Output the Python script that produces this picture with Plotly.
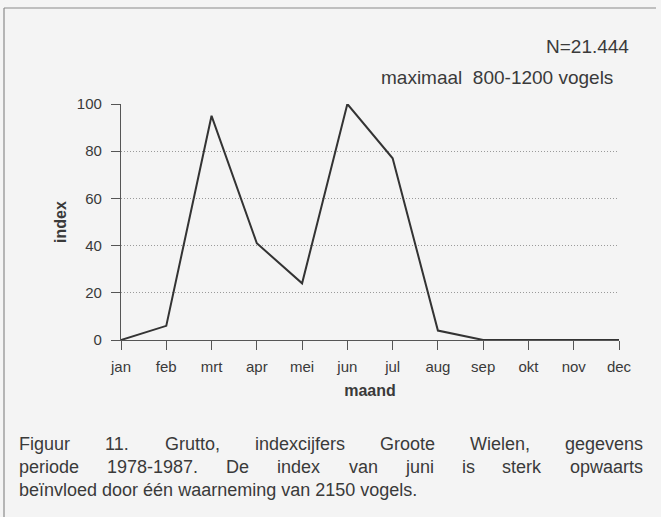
import plotly.graph_objects as go

months = ["jan", "feb", "mrt", "apr", "mei", "jun", "jul", "aug", "sep", "okt", "nov", "dec"]
index_values = [0, 6, 95, 41, 24, 100, 77, 4, 0, 0, 0, 0]
y_ticks = [0, 20, 40, 60, 80, 100]
n_label = "N=21.444"
max_label = "maximaal  800-1200 vogels"
caption_lines = [
    "Figuur 11. Grutto, indexcijfers Groote Wielen, gegevens",
    "periode 1978-1987. De index van juni is sterk opwaarts",
    "beïnvloed door één waarneming van 2150 vogels.",
]

FONT = "Arial, Liberation Sans, sans-serif"
TXT = "#3a3a3a"
BG = "#f4f4f4"

# plot area in pixels (661 x 517 page)
L, R, T, B = 121, 42, 104, 177
PW = 661 - L - R
PH = 517 - T - B

# rough Arial advance widths (per 1000 em) used for justifying the caption
AW = {" ": 278, ".": 278, ",": 278, "-": 333, "F": 611, "G": 778, "W": 944, "D": 722,
      "i": 222, "j": 222, "l": 222, "f": 278, "t": 278, "r": 333, "m": 833, "w": 722,
      "c": 500, "k": 500, "s": 500, "v": 500, "x": 500, "y": 500, "z": 500, "ï": 278}


def text_w(s, size):
    return sum(AW.get(ch, 556) for ch in s) * size / 1000


def px_x(px):
    return (px - L) / PW


def px_y(py):
    return (517 - B - py) / PH


fig = go.Figure()
fig.add_trace(go.Scatter(
    x=months, y=index_values, mode="lines",
    line=dict(color="#333333", width=2),
    showlegend=False, hoverinfo="skip",
))

annotations = [
    dict(text=n_label, x=px_x(631), y=px_y(46), xanchor="right", yanchor="middle",
         font=dict(size=19, color=TXT, family=FONT)),
    dict(text=max_label, x=px_x(615), y=px_y(77), xanchor="right", yanchor="middle",
         font=dict(size=19, color=TXT, family=FONT)),
]

cap_size = 18
left_px, right_px = 19, 643
for i, line in enumerate(caption_lines):
    y = px_y(444 + i * 23)
    if i == len(caption_lines) - 1:
        annotations.append(dict(text=line, x=px_x(left_px - 2), y=y, xanchor="left",
                                yanchor="middle", font=dict(size=cap_size, color=TXT, family=FONT)))
        continue
    # justified line: spread the words between the left and right edge
    words = line.split(" ")
    widths = [text_w(w, cap_size) for w in words]
    gap = (right_px - left_px - sum(widths)) / (len(words) - 1)
    pos = left_px
    for k, (w, wd) in enumerate(zip(words, widths)):
        if k == 0:
            x, anchor = pos - 2, "left"
        elif k == len(words) - 1:
            x, anchor = right_px + 2, "right"
        else:
            x, anchor = pos + wd / 2, "center"
        annotations.append(dict(text=w, x=px_x(x), y=y, xanchor=anchor, yanchor="middle",
                                font=dict(size=cap_size, color=TXT, family=FONT)))
        pos += wd + gap

for a in annotations:
    a.update(xref="paper", yref="paper", showarrow=False)

# frame lines round the figure (top and left edges)
shapes = [
    dict(type="line", xref="paper", yref="paper", x0=px_x(4), x1=px_x(656), y0=px_y(8), y1=px_y(8),
         line=dict(color="#8a8a8a", width=1.2)),
    dict(type="line", xref="paper", yref="paper", x0=px_x(4), x1=px_x(4), y0=px_y(8), y1=px_y(517),
         line=dict(color="#8a8a8a", width=1.2)),
]

fig.update_layout(
    width=661, height=517,
    margin=dict(l=L, r=R, t=T, b=B),
    paper_bgcolor=BG, plot_bgcolor=BG,
    font=dict(family=FONT, color=TXT, size=15),
    annotations=annotations, shapes=shapes,
    xaxis=dict(
        type="category", categoryarray=months, range=[0, len(months) - 1],
        showline=True, linecolor="#555555", linewidth=1.3,
        ticks="outside", ticklen=9, tickcolor="#555555", tickwidth=1.2,
        ticklabelstandoff=4,
        showgrid=False, zeroline=False,
        tickfont=dict(size=15, color=TXT),
        title=dict(text="<b>maand</b>", font=dict(size=16, color=TXT), standoff=10),
    ),
    yaxis=dict(
        range=[0, 100], tickvals=y_ticks,
        showline=True, linecolor="#555555", linewidth=1.3,
        ticks="outside", ticklen=9, tickcolor="#555555", tickwidth=1.2,
        ticklabelstandoff=6,
        showgrid=True, gridcolor="#9a9a9a", gridwidth=1, griddash="1px,2px",
        zeroline=False,
        tickfont=dict(size=15, color=TXT),
        title=dict(text="<b>index</b>", font=dict(size=16, color=TXT), standoff=6),
    ),
)

fig.write_html("out.html", config={"displayModeBar": False},
               post_script="document.body.style.margin = '0';")
